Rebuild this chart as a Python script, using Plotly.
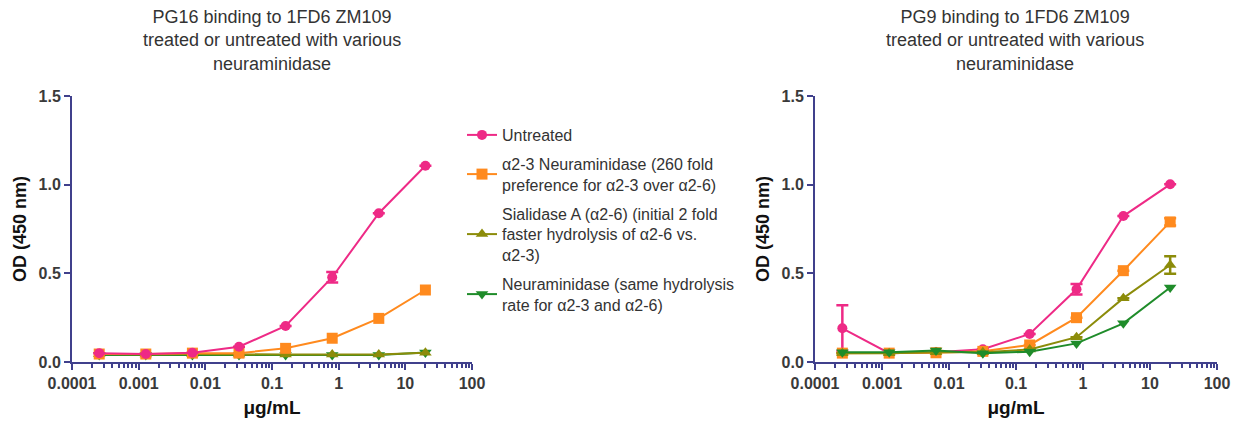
import plotly.graph_objects as go

# Antibody concentration (5-fold serial dilution, ug/mL)
conc = [0.000256, 0.00128, 0.0064, 0.032, 0.16, 0.8, 4, 20]

series_names = [
    "Untreated",
    "\u03b12-3 Neuraminidase (260 fold<br>preference for \u03b12-3 over \u03b12-6)",
    "Sialidase A (\u03b12-6) (initial 2 fold<br>faster hydrolysis of \u03b12-6 vs.<br>\u03b12-3)",
    "Neuraminidase (same hydrolysis<br>rate for \u03b12-3 and \u03b12-6)",
]

# PG16 OD(450) per treatment
pg16_untreated = [0.050, 0.045, 0.052, 0.086, 0.203, 0.478, 0.839, 1.107]
pg16_a23 = [0.045, 0.045, 0.050, 0.050, 0.077, 0.134, 0.246, 0.406]
pg16_sialA = [0.045, 0.042, 0.045, 0.042, 0.042, 0.042, 0.042, 0.052]
pg16_neur = [0.040, 0.040, 0.040, 0.040, 0.040, 0.040, 0.040, 0.053]
pg16_err = {
    "untreated": [0, 0, 0, 0, 0, 0.03, 0, 0],
}

# PG9 OD(450) per treatment
pg9_untreated = [0.190, 0.050, 0.055, 0.072, 0.158, 0.410, 0.823, 1.002]
pg9_a23 = [0.050, 0.050, 0.052, 0.060, 0.096, 0.250, 0.515, 0.790]
pg9_sialA = [0.050, 0.050, 0.055, 0.055, 0.070, 0.140, 0.360, 0.547]
pg9_neur = [0.055, 0.055, 0.065, 0.050, 0.058, 0.105, 0.218, 0.420]
pg9_err = {
    "untreated": [0.13, 0, 0, 0, 0, 0.03, 0, 0],
    "a23": [0, 0, 0, 0, 0, 0, 0, 0.02],
    "sialA": [0, 0, 0, 0, 0, 0, 0, 0.05],
}

x_tick_vals = [0.0001, 0.001, 0.01, 0.1, 1, 10, 100]
x_tick_text = ["0.0001", "0.001", "0.01", "0.1", "1", "10", "100"]
y_tick_vals = [0.0, 0.5, 1.0, 1.5]
y_tick_text = ["0.0", "0.5", "1.0", "1.5"]

titles = [
    "PG16 binding to 1FD6 ZM109<br>treated or untreated with various<br>neuraminidase",
    "PG9 binding to 1FD6 ZM109<br>treated or untreated with various<br>neuraminidase",
]

colors = ["#EE2A86", "#FF8A1E", "#8C8C0A", "#1F8C2A"]
symbols = ["circle", "square", "triangle-up", "triangle-down"]
sizes = [10, 11, 11, 11]

AXIS = "#40408C"
FONT = "Liberation Sans, Arial, sans-serif"

fig = go.Figure()


def add_series(ys, idx, xa, ya, err, show):
    error_y = None
    if err is not None:
        error_y = dict(type="data", array=err, visible=True, color=colors[idx],
                       thickness=2.5, width=6)
    fig.add_trace(go.Scatter(
        x=conc, y=ys, mode="lines+markers",
        name=series_names[idx], showlegend=show, legendgroup=f"g{idx}",
        line=dict(color=colors[idx], width=2),
        marker=dict(symbol=symbols[idx], size=sizes[idx], color=colors[idx]),
        error_y=error_y, xaxis=xa, yaxis=ya, cliponaxis=False,
    ))


# left panel: draw back to front so untreated sits on top
add_series(pg16_neur, 3, "x", "y", None, False)
add_series(pg16_sialA, 2, "x", "y", None, False)
add_series(pg16_a23, 1, "x", "y", None, False)
add_series(pg16_untreated, 0, "x", "y", pg16_err["untreated"], False)

# right panel (carries the legend entries)
add_series(pg9_untreated, 0, "x2", "y2", pg9_err["untreated"], True)
add_series(pg9_a23, 1, "x2", "y2", pg9_err["a23"], True)
add_series(pg9_sialA, 2, "x2", "y2", pg9_err["sialA"], True)
add_series(pg9_neur, 3, "x2", "y2", None, True)

W, H = 1241, 423
minor_vals = [m * 10 ** e for e in range(-4, 2) for m in range(2, 10)]

xaxis_common = dict(
    type="log", range=[-4, 2], automargin=False,
    tickvals=x_tick_vals, ticktext=x_tick_text,
    ticks="outside", ticklen=6, tickwidth=1.5, tickcolor=AXIS,
    showline=True, linecolor=AXIS, linewidth=2,
    showgrid=False, zeroline=False,
    tickfont=dict(family=FONT, size=16, color="#3a3a3a", weight="bold"),
    minor=dict(tickvals=minor_vals, ticks="outside", ticklen=4,
               tickwidth=1.5, tickcolor=AXIS, showgrid=False),
    title=dict(text="\u03bcg/mL", standoff=9,
               font=dict(family=FONT, size=19, color="#111111", weight="bold")),
)
yaxis_common = dict(
    range=[0, 1.5], automargin=False,
    tickvals=y_tick_vals, ticktext=y_tick_text,
    ticks="outside", ticklen=6, tickwidth=1.5, tickcolor=AXIS,
    showline=True, linecolor=AXIS, linewidth=2,
    showgrid=False, zeroline=False,
    tickfont=dict(family=FONT, size=16, color="#3a3a3a", weight="bold"),
    title=dict(text="OD (450 nm)", standoff=7,
               font=dict(family=FONT, size=18, color="#111111", weight="bold")),
)

y_dom = [(H - 362) / H, (H - 96) / H]

fig.update_layout(
    width=W, height=H,
    margin=dict(l=0, r=0, t=0, b=0, autoexpand=False),
    paper_bgcolor="white", plot_bgcolor="white",
    font=dict(family=FONT, color="#333333"),
    xaxis={**xaxis_common, "domain": [72 / W, 472 / W], "anchor": "y"},
    yaxis={**yaxis_common, "domain": y_dom, "anchor": "x"},
    xaxis2={**xaxis_common, "domain": [815 / W, 1217 / W], "anchor": "y2"},
    yaxis2={**yaxis_common, "domain": y_dom, "anchor": "x2"},
    legend=dict(
        x=462 / W, y=1 - 118 / H, xanchor="left", yanchor="top",
        font=dict(family=FONT, size=16, color="#333333"),
        bgcolor="rgba(0,0,0,0)", traceorder="grouped",
        tracegroupgap=5, itemwidth=30,
    ),
    showlegend=True,
)

for i, (t, cx) in enumerate(zip(titles, [272, 1015])):
    fig.add_annotation(
        text=t, x=cx / W, y=1 - 5 / H, xref="paper", yref="paper",
        xanchor="center", yanchor="top", showarrow=False, align="center",
        font=dict(family=FONT, size=18, color="#333333"),
    )

fig.write_html("out.html")
